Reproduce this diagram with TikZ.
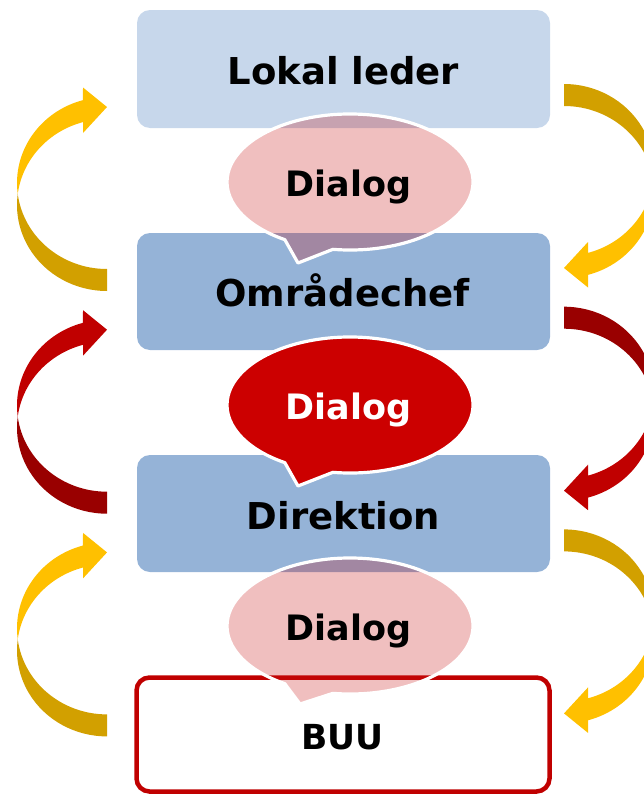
\documentclass[tikz,border=0pt]{standalone}
\usepackage{fontspec}
\setmainfont{DejaVu Sans}
\definecolor{lightblue}{RGB}{199,215,235}
\definecolor{midblue}{RGB}{149,179,215}
\definecolor{buured}{RGB}{192,0,0}
\definecolor{bubblered}{RGB}{204,0,0}
\definecolor{pinkbase}{RGB}{200,20,20}
\definecolor{goldfront}{RGB}{255,192,0}
\definecolor{goldback}{RGB}{210,160,0}
\definecolor{redfront}{RGB}{192,0,0}
\definecolor{redback}{RGB}{153,0,0}
% curved block arrow: #1 front colour, #2 back colour
\newcommand\carrowshape[2]{%
  \fill[#2] (107,291) arc[start angle=90,end angle=187.35,x radius=90,y radius=86]
     arc[start angle=172.65,end angle=90,x radius=90,y radius=86] -- cycle;
  \fill[#1] (17.74,194) arc[start angle=172.65,end angle=254.53,x radius=90,y radius=86]
     -- (83,87.5) -- (107,107) -- (83,133) -- (83,122.1)
     arc[start angle=254.53,end angle=187.35,x radius=90,y radius=86] -- cycle;
}
\begin{document}
\begin{tikzpicture}[x=1pt,y=-1pt,
  box/.style={rounded corners=13pt, inner sep=0pt, minimum width=413pt},
  lbl/.style={anchor=base, inner sep=0pt, font=\fontsize{37}{40}\selectfont\bfseries, text=black},
  dlg/.style={anchor=base, inner sep=0pt, font=\fontsize{35}{40}\selectfont\bfseries},
  softbubble/.style={fill=pinkbase, fill opacity=0.27, draw=white, line width=3.2pt, line join=round},
  hardbubble/.style={fill=bubblered, draw=white, line width=3.2pt, line join=round}]
\useasboundingbox (0,0) rectangle (644,795);
\clip (0,0) rectangle (644,795);

% curved arrows
\foreach \k/\fc/\bc in {0/goldfront/goldback, 1/redfront/redback, 2/goldfront/goldback}{
  \begin{scope}[shift={(0,222.7*\k)}]
    \carrowshape{\fc}{\bc}
    \begin{scope}[rotate around={180:(335.5,187.5)}]
      \carrowshape{\fc}{\bc}
    \end{scope}
  \end{scope}
}

% boxes
\node[box, fill=lightblue, minimum height=118pt] (lokal) at (343.5,69) {};
\node[box, fill=midblue, minimum height=117pt] (omr) at (343.5,291.5) {};
\node[box, fill=midblue, minimum height=117pt] (dir) at (343.5,513.5) {};
\node[box, fill=white, draw=buured, line width=4.5pt, minimum height=114pt] (buu) at (343,734.5) {};

\node[lbl] (lokaltxt) at (343.3,84.3) {Lokal leder};
\node[lbl] (omrtxt) at (342.5,306.7) {Områdechef};
\node[lbl] (dirtxt) at (343.5,529) {Direktion};
\node[lbl, font=\fontsize{34.5}{40}\selectfont\bfseries] (buutxt) at (342.2,749.3) {BUU};

% dialog bubbles
\coordinate (b1) at (350,182);
\coordinate (b2) at (350,405);
\coordinate (b3) at (350,626);
\path[softbubble] ([shift={(98:123 and 68)}]b1) arc[start angle=98,end angle=-238,x radius=123,y radius=68] -- ([shift={(-52,81)}]b1) -- cycle;
\path[hardbubble] ([shift={(98:123 and 68)}]b2) arc[start angle=98,end angle=-238,x radius=123,y radius=68] -- ([shift={(-52,81)}]b2) -- cycle;
\path[softbubble] ([shift={(98:123 and 68)}]b3) arc[start angle=98,end angle=-238,x radius=123,y radius=68] -- ([shift={(-50,78)}]b3) -- cycle;

\node[dlg, text=black] (d1) at (348.3,196.3) {Dialog};
\node[dlg, text=white] (d2) at (348.3,419.3) {Dialog};
\node[dlg, text=black] (d3) at (348.3,640.5) {Dialog};
\end{tikzpicture}
\end{document}
